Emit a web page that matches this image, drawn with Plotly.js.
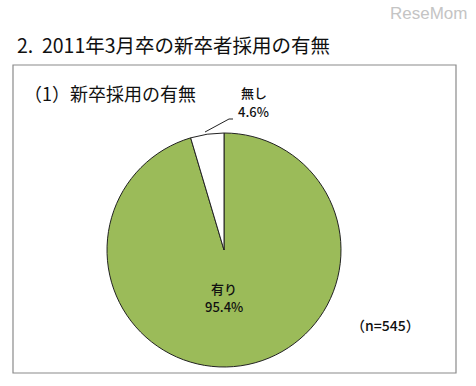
<!DOCTYPE html>
<html><head><meta charset="utf-8">
<script src="https://cdn.plot.ly/plotly-3.0.1.min.js"></script>
<style>html,body{margin:0;padding:0;background:#fff}#c{width:476px;height:386px}</style>
</head><body><div id="c"></div>
<script>
const categories = ["有り", "無し"];
const values = [95.4, 4.6];
const colors = ["#9BBB59", "#FFFFFF"];
const mainTitle = "2.  2011年3月卒の新卒者採用の有無";
const subTitle = "（1）新卒採用の有無";
const sampleNote = "（n=545）";

const W = 476, H = 386;
const px = v => v / W, py = v => 1 - v / H;
const jp = '"Noto Sans CJK JP", "Noto Sans", sans-serif';

const data = [{
  type: "pie",
  labels: categories,
  values: values,
  sort: false,
  direction: "clockwise",
  rotation: 0,
  marker: {colors: colors, line: {color: "#222", width: 1}},
  textinfo: "none",
  hoverinfo: "label+percent",
  domain: {x: [px(107), px(341)], y: [py(367), py(133)]},
  showlegend: false
}];

const lab = (t, x, y, size) => ({text: t, xref: "paper", yref: "paper", x: px(x), y: py(y),
  xanchor: "center", yanchor: "middle", showarrow: false,
  font: {family: jp, size: size, color: "#111", weight: 500}});

const layout = {
  width: W, height: H,
  margin: {l: 0, r: 0, t: 0, b: 0},
  paper_bgcolor: "#fff",
  showlegend: false,
  shapes: [
    {type: "rect", xref: "paper", yref: "paper",
     x0: px(13), x1: px(456), y0: py(373), y1: py(65),
     line: {color: "#8a8a8a", width: 1.2}},
    {type: "path", xref: "paper", yref: "paper",
     path: `M ${px(205)} ${py(132)} L ${px(229)} ${py(119)} L ${px(233)} ${py(119)}`,
     line: {color: "#222", width: 1}}
  ],
  annotations: [
    {text: "ReseMom", xref: "paper", yref: "paper", x: px(469), y: py(13), xanchor: "right", yanchor: "middle",
     showarrow: false, font: {family: "Liberation Sans, sans-serif", size: 17, color: "#c4c4c4"}},
    {text: mainTitle, xref: "paper", yref: "paper", x: px(15), y: py(45), xanchor: "left", yanchor: "middle",
     showarrow: false, font: {family: jp, size: 19.5, color: "#111"}},
    {text: subTitle, xref: "paper", yref: "paper", x: px(22), y: py(93), xanchor: "left", yanchor: "middle",
     showarrow: false, font: {family: jp, size: 18, color: "#111"}},
    lab(categories[1], 254, 93, 13),
    lab(values[1].toFixed(1) + "%", 253, 111, 13),
    lab(categories[0], 224, 288, 13),
    lab(values[0].toFixed(1) + "%", 224, 306, 13),
    lab(sampleNote, 385, 325, 14)
  ]
};
Plotly.newPlot("c", data, layout, {displayModeBar: false, staticPlot: true});
</script></body></html>
